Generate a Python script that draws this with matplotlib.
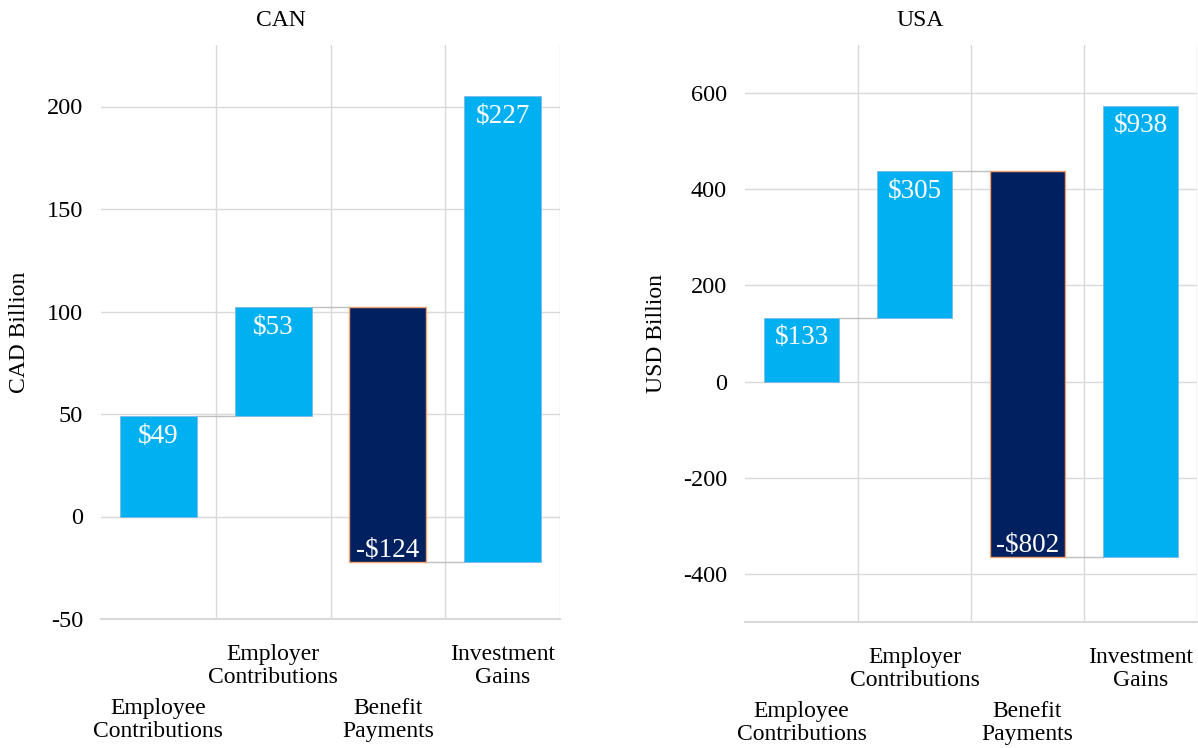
import matplotlib
matplotlib.use("Agg")
import matplotlib.pyplot as plt
from matplotlib.ticker import FixedLocator

plt.rcParams["font.family"] = ["Liberation Serif", "DejaVu Serif"]
plt.rcParams["axes.unicode_minus"] = False

# Waterfall components (billions)
categories = ["Employee\nContributions", "Employer\nContributions",
              "Benefit\nPayments", "Investment\nGains"]
can_values = [49, 53, -124, 227]
usa_values = [133, 305, -802, 938]
can_yticks = [-50, 0, 50, 100, 150, 200]
usa_yticks = [-400, -200, 0, 200, 400, 600]
can_ylim = (-50, 230)
usa_ylim = (-500, 700)

POS_COLOR = "#00B0F0"
NEG_COLOR = "#002060"
GRID_COLOR = "#D9D9D9"
LINK_COLOR = "#BFBFBF"
BAR_WIDTH = 0.67

W, H = 1198, 748
fig = plt.figure(figsize=(W / 100, H / 100), dpi=100)


def px_axes(left, top, right, bottom):
    return fig.add_axes([left / W, 1 - bottom / H, (right - left) / W, (bottom - top) / H])


def fmt(v):
    return f"${v}" if v >= 0 else f"-${abs(v)}"


def waterfall(ax, values, yticks, ylim, ylabel, title, title_x, label_x):
    n = len(values)
    starts, ends = [], []
    running = 0
    for v in values:
        starts.append(running)
        running += v
        ends.append(running)

    for i, v in enumerate(values):
        lo, hi = min(starts[i], ends[i]), max(starts[i], ends[i])
        if v >= 0:
            ax.bar(i, hi - lo, bottom=lo, width=BAR_WIDTH, color=POS_COLOR,
                   edgecolor="#7FB8E6", linewidth=0.6, zorder=3)
            ax.annotate(fmt(v), (i, hi), xytext=(0, -5.5), textcoords="offset points",
                        ha="center", va="top", color="white", fontsize=19.5, zorder=4)
        else:
            ax.bar(i, hi - lo, bottom=lo, width=BAR_WIDTH, color=NEG_COLOR,
                   edgecolor="#F4A26B", linewidth=1.0, zorder=3)
            ax.annotate(fmt(v), (i, lo), xytext=(0, 3), textcoords="offset points",
                        ha="center", va="baseline", color="white", fontsize=19.5, zorder=4)

    # connectors between consecutive bars
    for i in range(n - 1):
        ax.plot([i + BAR_WIDTH / 2, i + 1 - BAR_WIDTH / 2], [ends[i], ends[i]],
                color=LINK_COLOR, linewidth=1.0, zorder=2)

    ax.set_xlim(-0.5, n - 0.5)
    ax.set_ylim(*ylim)
    ax.set_yticks(yticks)
    ax.set_xticks(range(n))
    ax.set_xticklabels(categories, fontsize=17, linespacing=1.1)
    ax.xaxis.set_minor_locator(FixedLocator([i + 0.5 for i in range(n)]))
    ax.tick_params(axis="x", which="both", length=0)
    ax.tick_params(axis="y", length=0, pad=13, labelsize=17.5)
    for i, tick in enumerate(ax.xaxis.get_major_ticks()):
        tick.set_pad(18 if i % 2 else 57)

    ax.grid(axis="y", which="major", color=GRID_COLOR, linewidth=1.0, zorder=0)
    ax.grid(axis="x", which="minor", color=GRID_COLOR, linewidth=1.0, zorder=0)
    ax.grid(axis="x", which="major", visible=False)
    ax.set_axisbelow(True)

    for side in ("top", "left", "right"):
        ax.spines[side].set_visible(False)
    ax.spines["bottom"].set_color(GRID_COLOR)
    ax.spines["bottom"].set_linewidth(1.5)

    ax.set_ylabel(ylabel, fontsize=17)
    ax.yaxis.set_label_coords(label_x, 0.5)
    fig.text(title_x / W, 1 - 20 / H, title, ha="center", va="center", fontsize=17)


ax1 = px_axes(101, 45, 560, 619)
waterfall(ax1, can_values, can_yticks, can_ylim, "CAD Billion", "CAN", 281, -0.155)

ax2 = px_axes(745, 45, 1197, 622)
waterfall(ax2, usa_values, usa_yticks, usa_ylim, "USD Billion", "USA", 920, -0.173)

fig.savefig("out.png", dpi=100, facecolor="white")
